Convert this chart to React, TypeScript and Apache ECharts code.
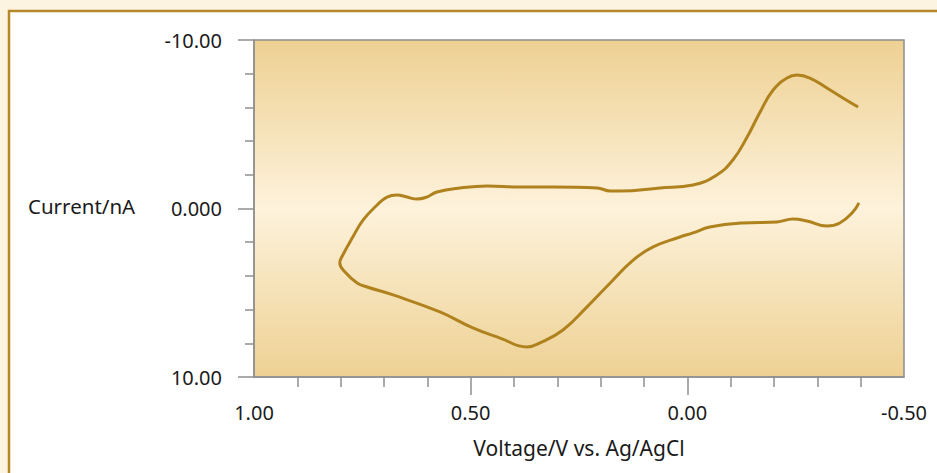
import React, { useEffect, useRef } from "react";
import * as echarts from "echarts";

// Voltage (V vs Ag/AgCl) of each sampled point, in scan order
const voltage: number[] = [
  -0.394, -0.359, -0.322, -0.283, -0.253, -0.230, -0.198, -0.168, -0.138, -0.105,
  -0.068, -0.013, 0.063, 0.155, 0.178, 0.208, 0.310, 0.386, 0.462, 0.525,
  0.578, 0.601, 0.624, 0.647, 0.670, 0.693, 0.716, 0.748, 0.772, 0.795,
  0.802, 0.790, 0.762, 0.739, 0.679, 0.571, 0.495, 0.432, 0.370, 0.340,
  0.287, 0.232, 0.178, 0.125, 0.079, 0.017, -0.013, -0.052, -0.128, -0.207,
  -0.244, -0.276, -0.322, -0.352, -0.382, -0.396,
];
// Current (nA) of each sampled point
const current: number[] = [
  -6.02, -6.56, -7.15, -7.74, -7.92, -7.74, -7.03, -5.73, -4.24, -2.88,
  -1.99, -1.39, -1.22, -1.04, -1.04, -1.22, -1.28, -1.28, -1.34, -1.22,
  -0.98, -0.68, -0.56, -0.68, -0.80, -0.68, -0.21, 0.68, 1.69, 2.76,
  3.23, 3.77, 4.42, 4.66, 5.13, 6.14, 7.09, 7.69, 8.22, 7.98,
  7.21, 5.85, 4.42, 3.06, 2.28, 1.69, 1.45, 1.10, 0.86, 0.80,
  0.62, 0.74, 1.04, 0.86, 0.21, -0.33,
];

const xMajorTicks: number[] = [0.5, 0];
const yMin = -10;
const yMax = 10;
const xMin = -0.5;
const xMax = 1.0;

const FONT = "'Noto Sans', sans-serif";
const GRAY = "#8f8f8f";
const TEXT = "#1a1a1a";

export default function App() {
  const ref = useRef<HTMLDivElement>(null);
  useEffect(() => {
    if (!ref.current) return;
    const chart = echarts.init(ref.current, undefined, { renderer: "svg" });
    const data = voltage.map((v, i) => [v, current[i]]);
    chart.setOption({
      animation: false,
      backgroundColor: "#fdf3e1",
      textStyle: { fontFamily: FONT },
      graphic: [
        {
          type: "rect",
          z: -10,
          silent: true,
          shape: { x: 9, y: 11, width: 1000, height: 600 },
          style: { fill: "#ffffff", stroke: "#b5892a", lineWidth: 2.5 },
        },
        {
          type: "text",
          left: 28,
          top: 195,
          silent: true,
          style: { text: "Current/nA", font: `20.5px ${FONT}`, fill: TEXT },
        },
      ],
      grid: {
        left: 254,
        right: 33,
        top: 40,
        bottom: 96,
        show: true,
        borderColor: GRAY,
        borderWidth: 1.5,
        backgroundColor: new echarts.graphic.LinearGradient(0, 0, 0, 1, [
          { offset: 0, color: "#eed092" },
          { offset: 0.5, color: "#fdf2db" },
          { offset: 1, color: "#eed193" },
        ]),
      },
      xAxis: {
        type: "value",
        inverse: true,
        min: xMin,
        max: xMax,
        interval: 0.5,
        name: "Voltage/V vs. Ag/AgCl",
        nameLocation: "middle",
        nameGap: 60,
        nameTextStyle: { fontSize: 21, color: TEXT, fontFamily: FONT },
        axisLine: { show: true, onZero: false, lineStyle: { color: GRAY, width: 1.5 } },
        axisTick: {
          show: true,
          customValues: xMajorTicks,
          length: 18,
          lineStyle: { color: GRAY, width: 1.5 },
        },
        minorTick: {
          show: true,
          splitNumber: 5,
          length: 10,
          lineStyle: { color: GRAY, width: 1.5 },
        },
        axisLabel: {
          margin: 25,
          fontSize: 20,
          color: TEXT,
          fontFamily: FONT,
          formatter: (v: number) => v.toFixed(2),
        },
        splitLine: { show: false },
      },
      yAxis: {
        type: "value",
        inverse: true,
        min: yMin,
        max: yMax,
        interval: 10,
        axisLine: { show: true, onZero: false, lineStyle: { color: GRAY, width: 1.5 } },
        axisTick: { show: true, length: 16, lineStyle: { color: GRAY, width: 1.5 } },
        minorTick: {
          show: true,
          splitNumber: 5,
          length: 9,
          lineStyle: { color: GRAY, width: 1.5 },
        },
        axisLabel: {
          margin: 32,
          fontSize: 20,
          color: TEXT,
          fontFamily: FONT,
          formatter: (v: number) => (v === 0 ? "0.000" : v.toFixed(2)),
        },
        splitLine: { show: false },
      },
      series: [
        {
          type: "line",
          data,
          smooth: 0.45,
          showSymbol: false,
          symbol: "none",
          lineStyle: { color: "#b0821e", width: 3 },
        },
      ],
    });
    return () => chart.dispose();
  }, []);
  return (
    <div
      ref={ref}
      style={{ position: "fixed", left: 0, top: 0, width: 937, height: 473 }}
    />
  );
}
